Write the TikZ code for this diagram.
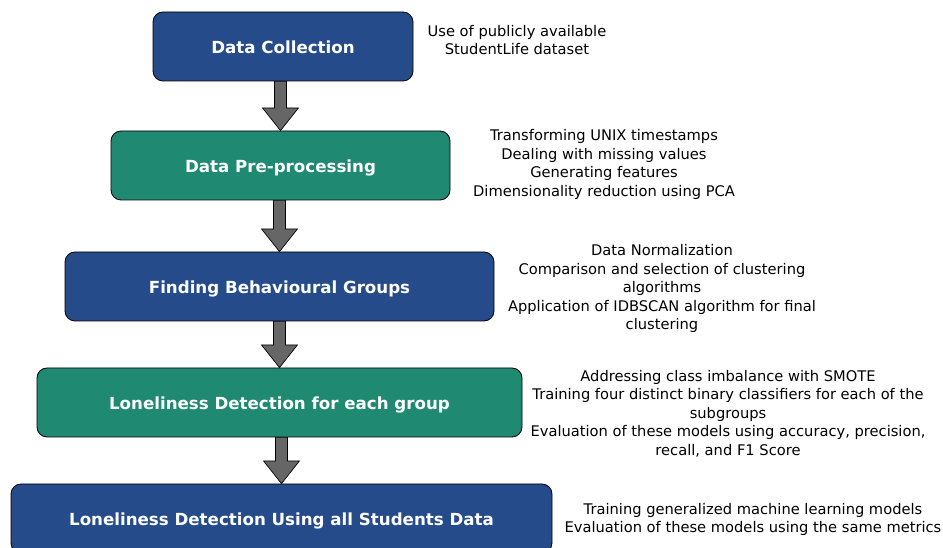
\documentclass[tikz,border=0pt]{standalone}
\usepackage{fontspec}
\setmainfont{DejaVu Sans}
\usepackage{tikz}
\usetikzlibrary{calc}
\usepackage{xcolor}

\definecolor{stageblue}{HTML}{264B8B}
\definecolor{stagegreen}{HTML}{1F8A71}
\definecolor{arrowgray}{HTML}{666666}

\tikzset{
  stage/.style={draw=black, line width=0.6pt, rounded corners=7.5pt, text=white,
    font=\bfseries\fontsize{12.5}{14}\selectfont, minimum height=51.75pt,
    text height=10.5pt, text depth=0pt},
  bluestage/.style={stage, fill=stageblue},
  greenstage/.style={stage, fill=stagegreen},
  note/.style={align=center, font=\fontsize{11}{13.9}\selectfont},
  blockarrow/.style={draw=black, line width=0.5pt, fill=arrowgray}
}

% fat arrow from the bottom of one stage to the top of the next
\newcommand{\flowarrow}[2]{%
  \draw[blockarrow] let \p1=(#1.south), \p2=(#2.north) in
    (\x2-4.5pt,\y1) -- (\x2+4.5pt,\y1) -- (\x2+4.5pt,\y2+17pt)
    -- (\x2+13.5pt,\y2+17pt) -- (\x2,\y2) -- (\x2-13.5pt,\y2+17pt)
    -- (\x2-4.5pt,\y2+17pt) -- cycle;}

\begin{document}
\begin{tikzpicture}[x=0.75pt, y=-0.75pt]
  \useasboundingbox (0,0) rectangle (943,548);

  % stages
  \node[bluestage, minimum width=195pt] (collect) at (283,46.5) {Data Collection};
  \node[greenstage, minimum width=254.25pt] (prep) at (280.5,165.5) {Data Pre-processing};
  \node[bluestage, minimum width=321.75pt] (groups) at (279.5,286.5) {Finding Behavioural Groups};
  \node[greenstage, minimum width=363.75pt] (lonely) at (279.5,402.5) {Loneliness Detection for each group};
  \node[bluestage, minimum width=405.75pt] (allstud) at (281.5,518.5) {Loneliness Detection Using all Students Data};

  % arrows between stages
  \flowarrow{collect}{prep}
  \flowarrow{prep}{groups}
  \flowarrow{groups}{lonely}
  \flowarrow{lonely}{allstud}

  % notes on the right
  \node[note] (collectnote) at (517,40) {Use of publicly available\\StudentLife dataset};
  \node[note] (prepnote) at (604,164.5) {Transforming UNIX timestamps\\Dealing with missing values\\Generating features\\Dimensionality reduction using PCA};
  \node[note] (groupsnote) at (662,288.5) {Data Normalization\\Comparison and selection of clustering\\algorithms\\Application of IDBSCAN algorithm for final\\clustering};
  \node[note] (lonelynote) at (728,413.5) {Addressing class imbalance with SMOTE\\Training four distinct binary classifiers for each of the\\subgroups\\Evaluation of these models using accuracy, precision,\\recall, and F1 Score};
  \node[note] (allstudnote) at (753,519.5) {Training generalized machine learning models\\Evaluation of these models using the same metrics};
\end{tikzpicture}
\end{document}
